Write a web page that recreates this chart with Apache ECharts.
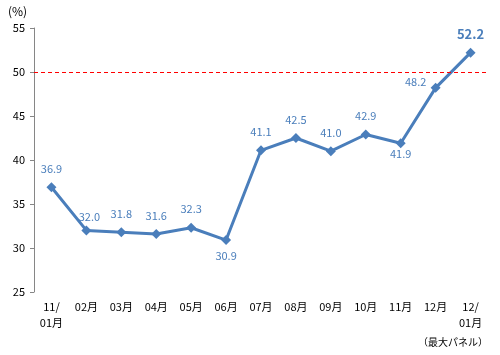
<!DOCTYPE html>
<html>
<head>
<meta charset="utf-8">
<script src="https://cdn.jsdelivr.net/npm/echarts@6/dist/echarts.min.js"></script>
<style>
html,body{margin:0;padding:0;background:#fff;}
#c{width:500px;height:355px;}
</style>
</head>
<body>
<div id="c"></div>
<script>
var categories = ['11/\n01月','02月','03月','04月','05月','06月','07月','08月','09月','10月','11月','12月','12/\n01月'];
var values = [36.9, 32.0, 31.8, 31.6, 32.3, 30.9, 41.1, 42.5, 41.0, 42.9, 41.9, 48.2, 52.2];
var thresholdValue = 50;
var yTicks = {min: 25, max: 55, interval: 5};

var FONT = '"Noto Sans CJK JP", "Liberation Sans", sans-serif';
var BLUE = '#4a7ebb';

var labelOffsets = {1: [3, -14], 5: [0, 16], 10: [0, 11], 11: [-20, -6]};

var seriesData = values.map(function (v, i) {
  var off = labelOffsets[i] || [0, -18.5];
  var item = {value: v, label: {offset: off}};
  if (i === values.length - 1) {
    item.label = {offset: [0, -18.5], fontWeight: 'bold', fontSize: 13};
  }
  return item;
});

var chart = echarts.init(document.getElementById('c'), null, {renderer: 'canvas'});
chart.setOption({
  animation: false,
  backgroundColor: '#fff',
  grid: {left: 34, right: 12, top: 28, bottom: 63, containLabel: false},
  xAxis: {
    type: 'category',
    data: categories,
    boundaryGap: true,
    axisLine: {show: false},
    axisTick: {show: false},
    axisLabel: {
      color: '#000', fontFamily: FONT, fontSize: 11, lineHeight: 16,
      margin: 7, interval: 0
    }
  },
  yAxis: {
    type: 'value',
    min: yTicks.min, max: yTicks.max, interval: yTicks.interval,
    axisLine: {show: true, lineStyle: {color: '#868686', width: 1}},
    axisTick: {show: true, length: 4, lineStyle: {color: '#868686'}},
    splitLine: {show: false},
    axisLabel: {color: '#000', fontFamily: FONT, fontSize: 11, margin: 9}
  },
  graphic: [
    {type: 'text', left: 8, top: 5, style: {text: '(%)', fill: '#000', font: '12px ' + FONT}},
    {type: 'text', right: 12, top: 337, style: {text: '（最大パネル）', fill: '#000', font: '10px ' + FONT}}
  ],
  series: [{
    type: 'line',
    data: seriesData,
    symbol: 'diamond',
    symbolSize: 10,
    lineStyle: {color: BLUE, width: 3},
    itemStyle: {color: BLUE},
    label: {
      show: true,
      position: 'inside',
      color: BLUE,
      fontFamily: FONT,
      fontSize: 11,
      formatter: function (p) { return p.value.toFixed(1); }
    },
    markLine: {
      silent: true,
      symbol: 'none',
      label: {show: false},
      lineStyle: {color: '#ff0000', type: [4, 3], width: 1},
      data: [{yAxis: thresholdValue}]
    }
  }]
});
</script>
</body>
</html>
